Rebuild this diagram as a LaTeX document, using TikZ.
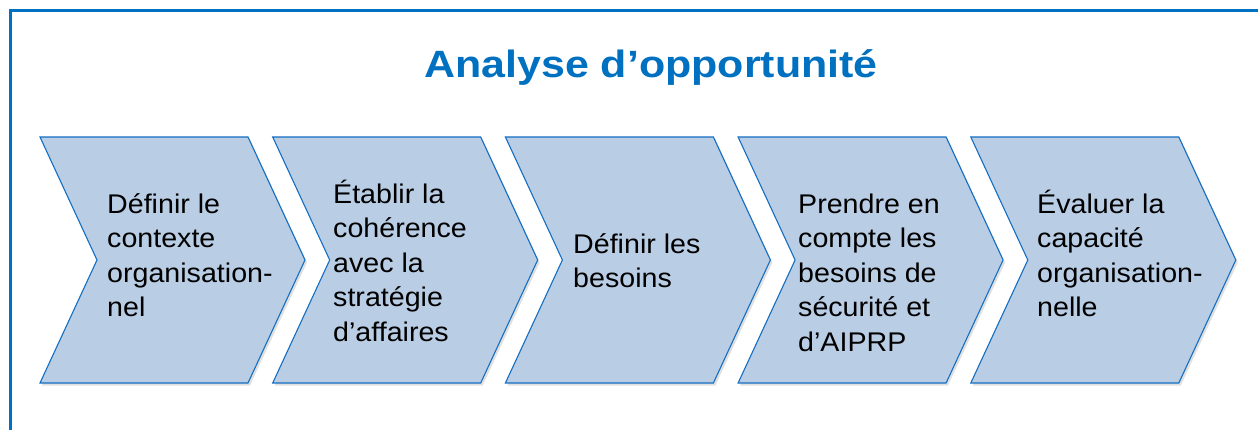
\documentclass[tikz,border=0pt]{standalone}
\usepackage{fontspec}
\setmainfont{Liberation Sans}
\newfontfamily\bodyfont[FakeStretch=1.06]{Liberation Sans}
\newfontfamily\titlefont[FakeStretch=1.13]{Liberation Sans}
\definecolor{frameblue}{RGB}{0,112,192}
\definecolor{chevfill}{RGB}{185,205,229}
\definecolor{chevline}{RGB}{20,110,195}
\tikzset{
  chevshape/.style={fill=chevfill, draw=chevline, line width=1.1pt, line join=miter},
  chevshadow/.style={fill=black, opacity=0.12, draw=none},
  steptext/.style={anchor=base west, align=left, inner sep=0pt, text=black,
    font=\bodyfont\fontsize{27}{34.5}\selectfont},
  titletext/.style={anchor=base, inner sep=0pt, text=frameblue,
    font=\titlefont\bfseries\fontsize{38}{42}\selectfont}
}
\begin{document}
\begin{tikzpicture}[x=1pt,y=-1pt]
\useasboundingbox (0,0) rectangle (1258,430);
% frame
\draw[frameblue, line width=3pt] (10.5,440) -- (10.5,11) -- (1270,11);
% title
\node[titletext] (title) at (651,78) {Analyse d’opportunité};
% chevrons
\foreach \i in {0,...,4}{
  \pgfmathsetmacro{\xo}{40+232.7*\i}
  \fill[chevshadow] (\xo+2,139.5) -- ++(208,0) -- ++(57,123) -- ++(-57,123) -- ++(-208,0) -- ++(57,-123) -- cycle;
  \draw[chevshape] (\xo,137) -- ++(208,0) -- ++(57,123) -- ++(-57,123) -- ++(-208,0) -- ++(57,-123) -- cycle;
}
% texts (anchored at the baseline of the last line)
\node[steptext] (s1) at (107,316.5) {Définir le\\contexte\\organisation-\\nel};
\node[steptext] (s2) at (333,341) {Établir la\\cohérence\\avec la\\stratégie\\d’affaires};
\node[steptext] (s3) at (573,287.5) {Définir les\\besoins};
\node[steptext] (s4) at (798,351) {Prendre en\\compte les\\besoins de\\sécurité et\\d’AIPRP};
\node[steptext] (s5) at (1037,316.5) {Évaluer la\\capacité\\organisation-\\nelle};
\end{tikzpicture}
\end{document}
